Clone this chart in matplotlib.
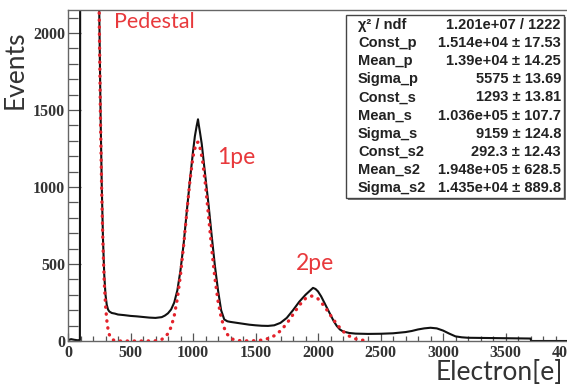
import matplotlib
matplotlib.use('Agg')
import matplotlib.pyplot as plt
import matplotlib.ticker as ticker
from matplotlib.patches import Rectangle

# black histogram
hist_x = [0, 25, 50, 75, 95, 100, 200, 240, 250, 260, 270, 280, 290, 300, 310, 320,
          330, 350, 375, 400, 450, 500, 550, 600, 650, 700, 750, 775, 800, 825, 850,
          875, 900, 925, 950, 975, 1000, 1015, 1030, 1040, 1045, 1055, 1070, 1100,
          1125, 1150, 1175, 1200, 1225, 1250, 1275, 1300, 1350, 1400, 1450, 1500,
          1550, 1600, 1650, 1700, 1750, 1800, 1850, 1900, 1940, 1960, 1980, 2000,
          2025, 2050, 2075, 2100, 2125, 2150, 2175, 2200, 2250, 2300, 2400, 2500,
          2600, 2700, 2750, 2800, 2850, 2900, 2950, 3000, 3050, 3100, 3150, 3200,
          3300, 3400, 3500, 3600, 3700, 3705, 4000]
hist_y = [6, 12, 8, 5, 6, 5000, 5000, 2950, 2150, 1500, 1010, 660, 430, 300, 235, 205,
          192, 182, 178, 172, 168, 163, 160, 156, 152, 150, 155, 165, 180, 205, 250,
          330, 460, 630, 840, 1040, 1230, 1330, 1400, 1440, 1410, 1360, 1280, 1060,
          880, 680, 490, 330, 200, 140, 128, 124, 118, 112, 106, 102,
          99, 98, 102, 118, 150, 200, 255, 300, 330, 345, 338, 322,
          290, 250, 210, 170, 130, 98, 75, 62, 52, 48, 46, 47,
          50, 58, 65, 75, 82, 86, 82, 68, 48, 30, 24, 21,
          20, 19, 18, 17, 16, 0, 0]

# red dotted fit curve
fit_x = [240, 250, 260, 270, 280, 290, 300, 310, 320, 330, 340, 350, 375, 400, 500,
         600, 700, 750, 800, 825, 850, 875, 900, 925, 950, 975, 1000, 1025, 1040,
         1050, 1075, 1100, 1125, 1150, 1175, 1200, 1225, 1250, 1275, 1300, 1325,
         1350, 1400, 1450, 1500, 1550, 1600, 1650, 1700, 1750, 1800, 1850, 1900,
         1950, 2000, 2050, 2100, 2150, 2200, 2250, 2300, 2350, 2400]
fit_y = [2934, 2086, 1437, 957, 618, 386, 234, 137, 78, 43, 23, 12, 2, 0, 0,
         0, 1.5, 10, 47, 91, 164, 276, 429, 620, 832, 1036, 1197, 1284, 1292,
         1278, 1181, 1013, 806, 596, 409, 260, 154, 84, 43, 20, 9,
         4, 1, 1, 2, 6, 16, 34, 66, 113, 172, 232, 276,
         292, 274, 227, 167, 109, 63, 32, 14, 6, 2]

stat_names = ['χ² / ndf', 'Const_p', 'Mean_p', 'Sigma_p', 'Const_s', 'Mean_s',
              'Sigma_s', 'Const_s2', 'Mean_s2', 'Sigma_s2']
stat_values = ['1.201e+07 / 1222', '1.514e+04 ± 17.53', '1.39e+04 ± 14.25',
               '5575 ± 13.69', '1293 ± 13.81', '1.036e+05 ± 107.7', '9159 ± 124.8',
               '292.3 ± 12.43', '1.948e+05 ± 628.5', '1.435e+04 ± 889.8']

xticks = [0, 500, 1000, 1500, 2000, 2500, 3000, 3500, 4000]
yticks = [0, 500, 1000, 1500, 2000]

W, H = 567, 386
fig = plt.figure(figsize=(W / 100, H / 100), dpi=100)
ax = fig.add_axes([68 / W, 45 / H, 500 / W, 331 / H])

ax.plot(hist_x, hist_y, color='#111111', linewidth=1.5, zorder=2)
ax.plot(fit_x, fit_y, color='#e4222b', linewidth=2.4, linestyle=(0, (0.1, 2.0)),
        dash_capstyle='round', zorder=3)

ax.set_xlim(0, 4000)
ax.set_ylim(0, 2150)
ax.set_xticks(xticks)
ax.set_yticks(yticks)
ax.xaxis.set_minor_locator(ticker.MultipleLocator(100))
ax.yaxis.set_minor_locator(ticker.MultipleLocator(100))
ax.tick_params(which='major', axis='x', direction='in', length=6, width=0.9,
               color='#555555', pad=3)
ax.tick_params(which='minor', axis='x', direction='in', length=3.5, width=0.9,
               color='#555555')
ax.tick_params(which='major', axis='y', direction='in', length=9, width=0.9,
               color='#555555', pad=2)
ax.tick_params(which='minor', axis='y', direction='in', length=7, width=0.9,
               color='#555555')
for lab in ax.get_xticklabels() + ax.get_yticklabels():
    lab.set_fontfamily('Liberation Serif')
    lab.set_fontweight('bold')
    lab.set_fontsize(11.5)
    lab.set_color('#333333')
for s in ax.spines.values():
    s.set_color('#666666')
    s.set_linewidth(1.0)

red = '#e8393c'
fig.text(114 / W, 1 - 22 / H, 'Pedestal', color=red, fontsize=15.5, family='Lato',
         ha='left', va='center')
fig.text(217 / W, 1 - 158 / H, '1pe', color=red, fontsize=16.5, family='Lato',
         ha='left', va='center')
fig.text(296 / W, 1 - 264 / H, '2pe', color=red, fontsize=16.5, family='Lato',
         ha='left', va='center')
fig.text(15 / W, 1 - 70 / H, 'Events', color='#333333', fontsize=19, family='Lato',
         rotation=90, ha='center', va='center')
fig.text(563 / W, 1 - 373 / H, 'Electron[e]', color='#333333', fontsize=19,
         family='Lato', ha='right', va='center')

# stat box
bx0, bx1, by0, by1 = 346, 564, 15, 198
fig.patches.append(Rectangle((bx0 / W + 2 / W, 1 - (by1 + 2) / H), (bx1 - bx0) / W,
                             (by1 - by0) / H, transform=fig.transFigure,
                             facecolor='#777777', edgecolor='none', zorder=5))
fig.patches.append(Rectangle((bx0 / W, 1 - by1 / H), (bx1 - bx0) / W, (by1 - by0) / H,
                             transform=fig.transFigure, facecolor='white',
                             edgecolor='#444444', linewidth=1.0, zorder=6))
for i, (n, v) in enumerate(zip(stat_names, stat_values)):
    yy = 1 - (25 + i * 18.1) / H
    fig.text(358 / W, yy, n, fontsize=10.5, family='Liberation Sans', weight='bold',
             color='#222222', ha='left', va='center', zorder=7)
    fig.text(561 / W, yy, v, fontsize=10.5, family='Liberation Sans', weight='bold',
             color='#222222', ha='right', va='center', zorder=7)

fig.savefig('out.png', dpi=100)
